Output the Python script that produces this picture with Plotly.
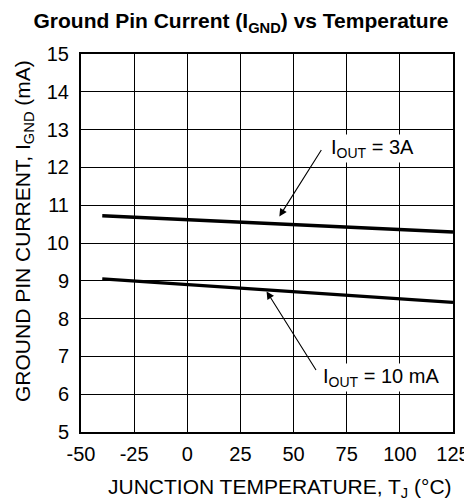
import plotly.graph_objects as go

temps = [-40, 125]
i_3a = [10.72, 10.29]
i_10ma = [9.05, 8.43]
x_ticks = [-50, -25, 0, 25, 50, 75, 100, 125]
y_ticks = [5, 6, 7, 8, 9, 10, 11, 12, 13, 14, 15]

FONT = "Liberation Sans, Arial, sans-serif"
OFF = 8  # default page body margin
W, H = 472 - OFF, 501 - OFF
L, T = 81 - OFF, 54 - OFF
R = W - (453 - OFF)
B = H - (432 - OFF)
PW, PH = W - L - R, H - T - B

fig = go.Figure()
fig.add_trace(go.Scatter(x=temps, y=i_3a, mode="lines",
                         line=dict(color="black", width=3.4), showlegend=False))
fig.add_trace(go.Scatter(x=temps, y=i_10ma, mode="lines",
                         line=dict(color="black", width=3.4), showlegend=False))

# arrows
fig.add_annotation(x=43.3, y=10.7, ax=63.5, ay=12.5, xref="x", yref="y",
                   axref="x", ayref="y", text="", showarrow=True,
                   arrowhead=2, arrowsize=1.4, arrowwidth=1.1, arrowcolor="black")
fig.add_annotation(x=37.3, y=8.72, ax=61.0, ay=6.6, xref="x", yref="y",
                   axref="x", ayref="y", text="", showarrow=True,
                   arrowhead=2, arrowsize=1.4, arrowwidth=1.1, arrowcolor="black")
# labels
fig.add_annotation(x=66.5, y=12.5, xref="x", yref="y", text="I<sub>OUT</sub> = 3A",
                   showarrow=False, xanchor="left", yanchor="middle",
                   bgcolor="white", borderpad=1,
                   font=dict(family=FONT, size=20, color="black"))
fig.add_annotation(x=62.8, y=6.43, xref="x", yref="y", text="I<sub>OUT</sub> = 10 mA",
                   showarrow=False, xanchor="left", yanchor="middle",
                   bgcolor="white", borderpad=1,
                   font=dict(family=FONT, size=20, color="black"))

# axis titles as annotations for exact placement (reference pixel coords)
fig.add_annotation(x=(280 - 81) / PW, y=0, xref="paper", yref="paper",
                   yshift=-(488 - 432), xanchor="center", yanchor="middle",
                   text="JUNCTION TEMPERATURE, T<sub>J</sub> (°C)", showarrow=False,
                   font=dict(family=FONT, size=21, color="black"))
fig.add_annotation(x=0, y=1 - (231 - 54) / PH, xref="paper", yref="paper",
                   xshift=-(81 - 24), xanchor="center", yanchor="middle", textangle=-90,
                   text="GROUND PIN CURRENT, I<sub>GND</sub> (mA)", showarrow=False,
                   font=dict(family=FONT, size=21, color="black"))

fig.update_layout(
    width=W, height=H,
    margin=dict(l=L, r=R, t=T, b=B, autoexpand=False),
    paper_bgcolor="white", plot_bgcolor="white",
    title=dict(text="<b>Ground Pin Current (I<sub>GND</sub>) vs Temperature</b>",
               x=(241 - OFF) / W, xanchor="center", y=1 - (21 - OFF) / H, yanchor="middle",
               font=dict(family=FONT, size=21, color="black")),
    font=dict(family=FONT, size=20, color="black"),
)
fig.update_xaxes(range=[-50, 125], tickvals=x_ticks, ticktext=[str(v) for v in x_ticks],
                 showgrid=True, gridcolor="black", gridwidth=1.2,
                 showline=True, linecolor="black", linewidth=2, mirror=True,
                 zeroline=False, ticks="", ticklen=0, automargin=False,
                 ticklabelstandoff=3,
                 tickfont=dict(family=FONT, size=20, color="black"))
fig.update_yaxes(range=[5, 15], tickvals=y_ticks, ticktext=[str(v) for v in y_ticks],
                 showgrid=True, gridcolor="black", gridwidth=1.2,
                 showline=True, linecolor="black", linewidth=2, mirror=True,
                 zeroline=False, ticks="", ticklen=0, automargin=False,
                 ticklabelstandoff=6,
                 tickfont=dict(family=FONT, size=20, color="black"))

fig.write_html("out.html")
